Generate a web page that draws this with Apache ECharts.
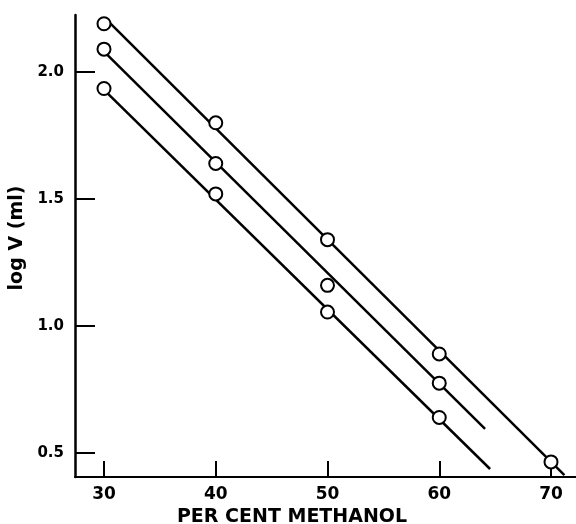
<!DOCTYPE html>
<html>
<head>
<meta charset="utf-8">
<script src="https://cdn.jsdelivr.net/npm/echarts@6/dist/echarts.min.js"></script>
<style>
	html, body { margin: 0; padding: 0; background: #fff; }
	#chart { width: 576px; height: 524px; }
</style>
</head>
<body>
<div id="chart"></div>
<script>
	// per cent methanol of each measured point
	var pctMethanol = [30, 40, 50, 60, 70];
	// log V (ml)
	var logVTop = [2.19, 1.80, 1.34, 0.89, 0.465];
	var logVMid = [2.09, 1.64, 1.16, 0.775];
	var logVBot = [1.935, 1.52, 1.055, 0.64];
	// ends of the drawn straight lines [pct, logV]
	var fitTop = [[30.25, 2.205], [71.2, 0.413]];
	var fitMid = [[30.3, 2.067], [64.1, 0.595]];
	var fitBot = [[30.3, 1.917], [64.55, 0.437]];
	// tick values
	var xTicks = [30, 40, 50, 60, 70];
	var yTicks = [0.5, 1.0, 1.5, 2.0];

	function pairs(xs, ys) {
		var out = [];
		for (var i = 0; i < ys.length; i++) out.push([xs[i], ys[i]]);
		return out;
	}

	var chart = echarts.init(document.getElementById('chart'));
	var font = 'DejaVu Sans';

	var lineStyle = { color: '#000', width: 2.5 };
	var dotStyle = { color: '#fff', borderColor: '#000', borderWidth: 2, opacity: 1 };

	function fitSeries(d) {
		return { type: 'line', data: d, symbol: 'none', lineStyle: lineStyle, z: 2, silent: true };
	}
	function dotSeries(d) {
		return { type: 'scatter', data: d, symbol: 'circle', symbolSize: 13, itemStyle: dotStyle, z: 3, silent: true };
	}

	chart.setOption({
		animation: false,
		grid: { left: 75, top: 15, right: 0, bottom: 47, containLabel: false, outerBoundsMode: 'none' },
		xAxis: {
			type: 'value',
			min: 27.405,
			max: 72.237,
			name: 'PER CENT METHANOL',
			nameLocation: 'middle',
			nameGap: 30,
			nameTextStyle: { color: '#000', fontFamily: font, fontWeight: 'bold', fontSize: 19, padding: [0, 67, 0, 0] },
			axisLine: { lineStyle: { color: '#000', width: 2 } },
			axisTick: { inside: true, length: 16, customValues: xTicks, lineStyle: { color: '#000', width: 2 } },
			axisLabel: { customValues: xTicks, margin: 9, color: '#000', fontFamily: font, fontWeight: 'bold', fontSize: 17 },
			splitLine: { show: false }
		},
		yAxis: {
			type: 'value',
			min: 0.4055,
			max: 2.2244,
			name: 'log V (ml)',
			nameLocation: 'middle',
			nameGap: 45,
			nameTextStyle: { color: '#000', fontFamily: font, fontWeight: 'bold', fontSize: 19, padding: [0, 0, 0, 16] },
			axisLine: { lineStyle: { color: '#000', width: 2.5 } },
			axisTick: { inside: true, length: 20, customValues: yTicks, lineStyle: { color: '#000', width: 2 } },
			axisLabel: {
				customValues: yTicks, margin: 11, color: '#000', fontFamily: font, fontWeight: 'bold', fontSize: 15,
				formatter: function (v) { return v.toFixed(1); }
			},
			splitLine: { show: false }
		},
		series: [
			fitSeries(fitTop),
			fitSeries(fitMid),
			fitSeries(fitBot),
			dotSeries(pairs(pctMethanol, logVTop)),
			dotSeries(pairs(pctMethanol, logVMid)),
			dotSeries(pairs(pctMethanol, logVBot))
		]
	});
</script>
</body>
</html>
